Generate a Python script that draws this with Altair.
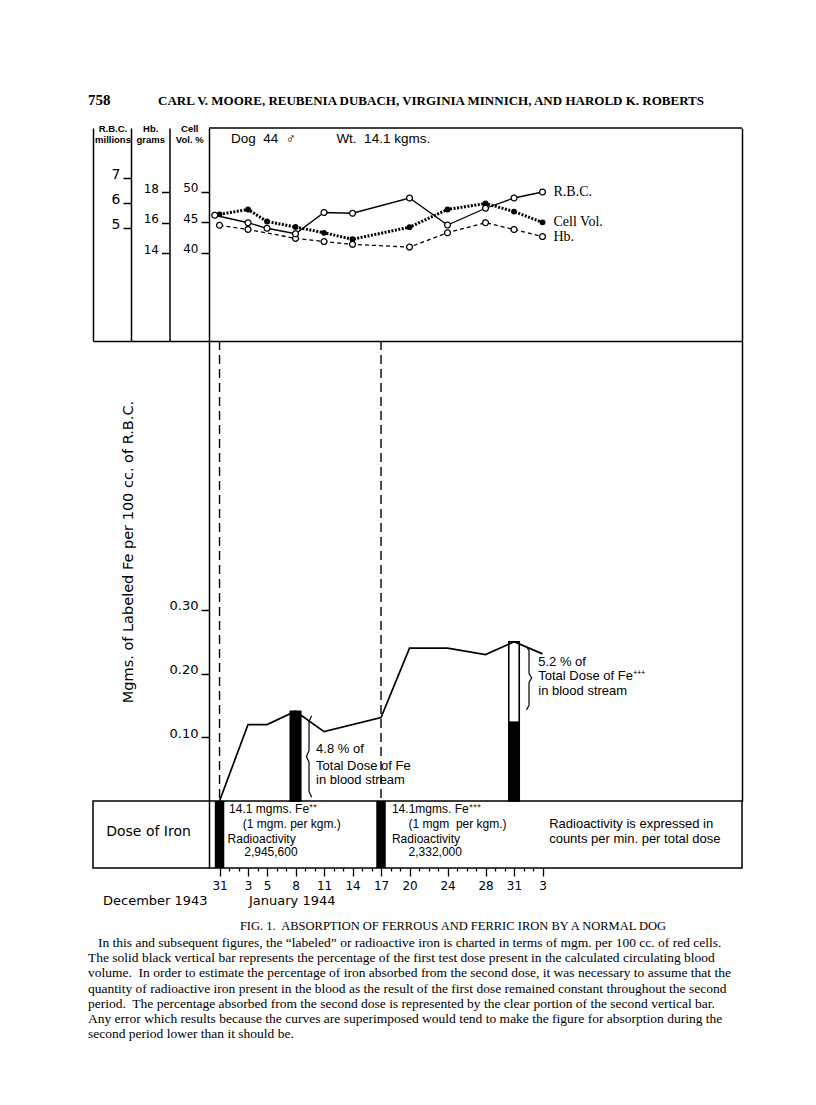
import altair as alt
import pandas as pd

# ---------------- values ----------------
rbc_days = [-0.5, 3, 5, 8, 11, 14, 20, 24, 28, 31, 34]
rbc_millions = [5.51, 5.21, 4.99, 4.77, 5.62, 5.59, 6.20, 5.12, 5.79, 6.20, 6.44]
hb_days = [0, 3, 8, 11, 14, 20, 24, 28, 31, 34]
hb_grams = [15.82, 15.55, 14.96, 14.75, 14.57, 14.39, 15.33, 15.99, 15.54, 15.08]
cell_days = [0, 3, 5, 8, 11, 14, 20, 24, 28, 31, 34]
cell_vol = [46.34, 47.13, 45.16, 44.26, 43.31, 42.25, 44.23, 47.13, 48.11, 46.79, 45.02]
fe_days = [0, 3, 5, 8, 11, 17, 20, 24, 28, 31, 34]
fe_mg = [0.0, 0.120, 0.120, 0.141, 0.109, 0.131, 0.240, 0.240, 0.230, 0.250, 0.231]
dose_days = [0, 17]
bar_days = [8, 31]
bar_total = [0.141, 0.250]
bar_first_dose = [0.141, 0.125]
tick_days = [0, 3, 5, 8, 11, 14, 17, 20, 24, 28, 31, 34]
tick_labels = ["31", "3", "5", "8", "11", "14", "17", "20", "24", "28", "31", "3"]
minor_days = list(range(0, 35))
rbc_ticks = [5, 6, 7]
hb_ticks = [14, 16, 18]
cell_ticks = [40, 45, 50]
fe_ticks = [0.1, 0.2, 0.3]

caption_lines = [
    "In this and subsequent figures, the \u201clabeled\u201d or radioactive iron is charted in terms of mgm. per 100 cc. of red cells.",
    "The solid black vertical bar represents the percentage of the first test dose present in the calculated circulating blood",
    "volume.\u00a0 In order to estimate the percentage of iron absorbed from the second dose, it was necessary to assume that the",
    "quantity of radioactive iron present in the blood as the result of the first dose remained constant throughout the second",
    "period.\u00a0 The percentage absorbed from the second dose is represented by the clear portion of the second vertical bar.",
    "Any error which results because the curves are superimposed would tend to make the figure for absorption during the",
    "second period lower than it should be.",
]

# ---------------- layout ----------------
W = 649
TOP_H, MID_H, DOSE_H = 213, 460, 67
X_DOMAIN = [-13.32, 55.0]           # days after Dec 31 1943
xscale = alt.Scale(domain=X_DOMAIN, nice=False, zero=False)
RBC_DOMAIN = [0.48, 9.0]
HB_DOMAIN = [8.23, 22.2]
CELL_DOMAIN = [25.57, 60.49]
FE_DOMAIN = [0, 0.7222]
SANS = "Liberation Sans"
LETTER = "DejaVu Sans"

def qs(domain, reverse=False):
    return alt.Scale(domain=domain, nice=False, zero=False, reverse=reverse)

# ================= TOP PANEL =================
x_top = alt.X("day:Q", scale=xscale, axis=None)

def col_axis(offset, values, title, title_x, label_size):
    return alt.Axis(orient="left", offset=offset, values=values, title=title,
                    titleAngle=0, titleX=title_x, titleY=-5, titleAlign="center",
                    titleBaseline="top", titleFontSize=9.5, titleFont=SANS,
                    titleFontWeight="bold", titleLineHeight=11,
                    tickSize=8, tickWidth=1.5, labelPadding=3, labelBaseline="alphabetic",
                    labelFontSize=label_size, labelFont=LETTER, domainWidth=1.5,
                    grid=False, labelFlush=False)

frame_axis_left = alt.Axis(orient="left", offset=0, ticks=False, labels=False, title=None,
                           domainWidth=1.5, grid=False)
frame_axis_right = alt.Axis(orient="right", offset=0, ticks=False, labels=False, title=None,
                            domainWidth=1.5, grid=False)

top_edge = alt.Chart(pd.DataFrame({"x0": [-1.1], "x1": [X_DOMAIN[1]], "y": [1]})).mark_rule(
    color="black", strokeWidth=1.5).encode(
    x=alt.X("x0:Q", scale=xscale, axis=None), x2="x1:Q",
    y=alt.Y("y:Q", scale=qs([0, 1]), axis=frame_axis_left))

dog_text = alt.Chart(pd.DataFrame({
    "day": [1.2, 12.3], "y": [0.95, 0.95],
    "t": ["Dog\u00a0 44\u00a0 \u2642", "Wt.\u00a0 14.1 kgms."]})).mark_text(
    align="left", baseline="middle", font=SANS, fontSize=13.5, color="black").encode(
    x=alt.X("day:Q", scale=xscale, axis=None),
    y=alt.Y("y:Q", scale=qs([0, 1]), axis=frame_axis_right), text="t:N")

def series(days, vals, domain, axis, line_kw, point_kw, label):
    df = pd.DataFrame({"day": days, "v": vals})
    line = alt.Chart(df).mark_line(color="black", **line_kw,
                                   point=alt.OverlayMarkDef(**point_kw)).encode(
        x=x_top, y=alt.Y("v:Q", scale=qs(domain), axis=axis))
    lab = alt.Chart(df.tail(1).assign(t=label)).mark_text(
        align="left", baseline="middle", dx=11, font="Liberation Serif",
        fontSize=14, color="black").encode(
        x=x_top, y=alt.Y("v:Q", scale=qs(domain), axis=None), text="t:N")
    return [line, lab]

open_pt = dict(shape="circle", filled=True, fill="white", stroke="black",
               strokeWidth=1.3, size=34, strokeDash=[1, 0])
cell_layers = series(cell_days, cell_vol, CELL_DOMAIN,
                     col_axis(-116, cell_ticks, ["Cell", "Vol. %"], -19.75, 12),
                     dict(strokeWidth=3, strokeDash=[2, 1.5]),
                     dict(shape="circle", filled=True, color="black", size=34, strokeDash=[1, 0]),
                     "Cell Vol.")
hb_layers = series(hb_days, hb_grams, HB_DOMAIN,
                   col_axis(-76.5, hb_ticks, ["Hb.", "grams"], -19.25, 12),
                   dict(strokeWidth=1.3, strokeDash=[4, 3]), open_pt, "Hb.")
rbc_layers = series(rbc_days, rbc_millions, RBC_DOMAIN,
                    col_axis(-38, rbc_ticks, ["R.B.C.", "millions"], -18.5, 14),
                    dict(strokeWidth=1.3), open_pt, "R.B.C.")

top = alt.layer(top_edge, dog_text, *cell_layers, *hb_layers, *rbc_layers).resolve_scale(
    y="independent").properties(width=W, height=TOP_H)

# ================= MIDDLE PANEL =================
top_axis = alt.Axis(orient="top", ticks=False, labels=False, title=None, domainWidth=1.5, grid=False)
fe_scale = qs(FE_DOMAIN)

fe_axis = alt.Axis(orient="left", offset=-116, values=fe_ticks, format=".2f",
                   tickSize=8, tickWidth=1.5, labelPadding=3, labelBaseline="alphabetic",
                   labelFontSize=13, labelFont=LETTER, domainWidth=1.5, grid=False,
                   labelFlush=False,
                   title="Mgms. of Labeled Fe per 100 cc. of R.B.C.", titleAngle=270,
                   titleX=-81, titleY=210.5, titleAlign="center", titleBaseline="middle",
                   titleFontSize=14.5, titleFont=LETTER, titleFontWeight="normal")
right_axis = alt.Axis(orient="right", ticks=False, labels=False, title=None, domainWidth=1.5,
                      grid=False)

fe_df = pd.DataFrame({"day": fe_days, "fe": fe_mg})
dose_df = pd.DataFrame({"day": dose_days})
bars_df = pd.DataFrame({"day": bar_days, "total": bar_total, "first": bar_first_dose})
bars_df["x0"] = bars_df["day"] - 0.55
bars_df["x1"] = bars_df["day"] + 0.55
bars_df["zero"] = 0.0

dashed = alt.Chart(dose_df).mark_rule(color="black", strokeWidth=1.4, strokeDash=[9, 5]).encode(
    x=alt.X("day:Q", scale=xscale, axis=top_axis))

bar_outline = alt.Chart(bars_df).mark_rect(fill="white", stroke="black", strokeWidth=1.6).encode(
    x=alt.X("x0:Q", scale=xscale, axis=top_axis), x2="x1:Q",
    y=alt.Y("zero:Q", scale=fe_scale, axis=right_axis), y2="total:Q")
bar_black = alt.Chart(bars_df).mark_rect(color="black").encode(
    x=alt.X("x0:Q", scale=xscale, axis=top_axis), x2="x1:Q",
    y=alt.Y("zero:Q", scale=fe_scale, axis=None), y2="first:Q")

fe_line = alt.Chart(fe_df).mark_line(color="black", strokeWidth=1.7).encode(
    x=alt.X("day:Q", scale=xscale, axis=top_axis),
    y=alt.Y("fe:Q", scale=fe_scale, axis=fe_axis))

def brace(x_mid, y_top, y_bot, width, tip, group):
    mid = (y_top + y_bot) / 2
    d = (y_top - y_bot) * 0.07
    xs = [x_mid - tip * width / 2, x_mid, x_mid, x_mid + tip * width / 2, x_mid, x_mid,
          x_mid - tip * width / 2]
    ys = [y_top, y_top - d, mid + d, mid, mid - d, y_bot + d, y_bot]
    return pd.DataFrame({"bx": xs, "by": ys, "ord": list(range(7)), "g": group})

braces_df = pd.concat([brace(9.42, 0.134, 0.006, 0.55, -1, "a"),
                       brace(32.58, 0.243, 0.143, 0.55, 1, "b")])
braces = alt.Chart(braces_df).mark_line(color="black", strokeWidth=1.2).encode(
    x=alt.X("bx:Q", scale=xscale, axis=top_axis),
    y=alt.Y("by:Q", scale=fe_scale, axis=None), order="ord:Q", detail="g:N")

ann_df = pd.DataFrame({
    "day": [10.16, 10.16, 10.16, 33.55, 33.55, 33.55],
    "y": [0.0824, 0.0557, 0.0322, 0.218, 0.196, 0.173],
    "t": ["4.8 % of", "Total Dose of Fe", "in blood stream",
          "5.2 % of", "Total Dose of Fe\u207a\u207a\u207a", "in blood stream"]})
ann = alt.Chart(ann_df).mark_text(align="left", baseline="middle", font=SANS, fontSize=13,
                                  color="black").encode(
    x=alt.X("day:Q", scale=xscale, axis=top_axis),
    y=alt.Y("y:Q", scale=fe_scale, axis=None), text="t:N")

middle = alt.layer(dashed, bar_outline, bar_black, fe_line, braces, ann).resolve_axis(
    y="independent").properties(width=W, height=MID_H)

# ================= DOSE PANEL =================
major_test = "indexof([" + ",".join(str(d) for d in tick_days) + "], datum.value) >= 0"
label_expr = ""
for d, lab in zip(tick_days, tick_labels):
    label_expr += f"datum.value == {d} ? '{lab}' : "
label_expr += "''"

bottom_axis = alt.Axis(orient="bottom", values=minor_days, labelExpr=label_expr,
                       tickSize={"condition": {"test": major_test, "value": 8}, "value": 3},
                       tickWidth=1.3, domain=False, labelPadding=4, labelFontSize=12,
                       labelFont=LETTER, labelOverlap=False, labelFlush=False, grid=False,
                       title=None)
dose_scale = qs([0, DOSE_H], reverse=True)
dose_axis = alt.Axis(orient="left", offset=-116, ticks=False, labels=False, grid=False,
                     domainWidth=1.5, title="Dose of Iron", titleAngle=0, titleX=-61, titleY=30,
                     titleAlign="center", titleBaseline="middle", titleFontSize=14,
                     titleFont=LETTER, titleFontWeight="normal")

dose_bar_df = pd.DataFrame({"day": dose_days})
dose_bar_df["x0"] = dose_bar_df["day"] - 0.5
dose_bar_df["x1"] = dose_bar_df["day"] + 0.5
dose_bar_df["y0"] = 0
dose_bar_df["y1"] = DOSE_H
dose_bars = alt.Chart(dose_bar_df).mark_rect(color="black").encode(
    x=alt.X("x0:Q", scale=xscale, axis=bottom_axis), x2="x1:Q",
    y=alt.Y("y0:Q", scale=dose_scale, axis=dose_axis), y2="y1:Q")

dose_text_df = pd.DataFrame({
    "day": [1.0, 2.45, 0.85, 2.6, 18.15, 19.9, 18.15, 19.9],
    "y": [8, 23, 38, 51, 8, 23, 38, 51],
    "t": ["14.1 mgms. Fe\u207a\u207a", "(1 mgm. per kgm.)", "Radioactivity", "2,945,600",
          "14.1mgms. Fe\u207a\u207a\u207a", "(1 mgm\u00a0 per kgm.)", "Radioactivity", "2,332,000"]})
dose_text = alt.Chart(dose_text_df).mark_text(align="left", baseline="middle", font=SANS,
                                              fontSize=12, color="black").encode(
    x=alt.X("day:Q", scale=xscale, axis=bottom_axis),
    y=alt.Y("y:Q", scale=dose_scale, axis=dose_axis), text="t:N")

note_df = pd.DataFrame({"day": [34.7, 34.7], "y": [23, 38],
                        "t": ["Radioactivity is expressed in", "counts per min. per total dose"]})
note_text = alt.Chart(note_df).mark_text(align="left", baseline="middle", font=SANS,
                                         fontSize=13, color="black").encode(
    x=alt.X("day:Q", scale=xscale, axis=bottom_axis),
    y=alt.Y("y:Q", scale=dose_scale, axis=dose_axis), text="t:N")

dose = alt.layer(dose_bars, dose_text, note_text).properties(
    width=W, height=DOSE_H, view=alt.ViewBackground(stroke="black", strokeWidth=1.5))

# ================= HEADER & CAPTION =================
header = alt.layer(
    alt.Chart(pd.DataFrame({"t": ["758"]})).mark_text(
        align="left", baseline="middle", font="Liberation Serif", fontSize=15,
        fontWeight="bold", color="black").encode(x=alt.value(-5), y=alt.value(12), text="t:N"),
    alt.Chart(pd.DataFrame({"t": ["CARL V. MOORE, REUBENIA DUBACH, VIRGINIA MINNICH, AND HAROLD K. ROBERTS"]})).mark_text(
        align="center", baseline="middle", font="Liberation Serif", fontSize=13,
        fontWeight="bold", color="black").encode(x=alt.value(338), y=alt.value(13), text="t:N"),
).properties(width=W, height=40)

cap_scale = qs([-3.944, 7.922], reverse=True)
month_df = pd.DataFrame({"r": [-1.77, -1.77], "t": ["December 1943", "January 1944"]})
months = alt.layer(
    alt.Chart(month_df.iloc[[0]]).mark_text(align="left", baseline="middle", font=LETTER,
                                            fontSize=13, color="black").encode(
        x=alt.value(10), y=alt.Y("r:Q", scale=cap_scale, axis=None), text="t:N"),
    alt.Chart(month_df.iloc[[1]]).mark_text(align="left", baseline="middle", font=LETTER,
                                            fontSize=13, color="black").encode(
        x=alt.value(156), y=alt.Y("r:Q", scale=cap_scale, axis=None), text="t:N"),
)
fig_title = alt.Chart(pd.DataFrame({"r": [-0.12],
                                    "t": ["FIG. 1.\u00a0 ABSORPTION OF FERROUS AND FERRIC IRON BY A NORMAL DOG"]})).mark_text(
    align="center", baseline="middle", font="Liberation Serif", fontSize=12.5,
    color="black").encode(x=alt.value(360), y=alt.Y("r:Q", scale=cap_scale, axis=None), text="t:N")
cap_df = pd.DataFrame({"r": list(range(1, len(caption_lines) + 1)), "t": caption_lines})
cap_first = alt.Chart(cap_df.iloc[[0]]).mark_text(
    align="left", baseline="middle", font="Liberation Serif", fontSize=13.5, color="black").encode(
    x=alt.value(5), y=alt.Y("r:Q", scale=cap_scale, axis=None), text="t:N")
cap_rest = alt.Chart(cap_df.iloc[1:]).mark_text(
    align="left", baseline="middle", font="Liberation Serif", fontSize=13.5, color="black").encode(
    x=alt.value(-5), y=alt.Y("r:Q", scale=cap_scale, axis=None), text="t:N")
caption = alt.layer(months, fig_title, cap_first, cap_rest).properties(width=W, height=180)

chart = alt.vconcat(header, top, middle, dose, caption, spacing=0, bounds="flush").properties(
    padding={"left": 79, "top": 79, "right": 5, "bottom": 5}, background="white"
).configure_view(stroke="transparent").configure_axis(
    domainColor="black", tickColor="black", labelColor="black", titleColor="black"
)

chart.save("out.html", embed_options={"renderer": "svg", "actions": False})
